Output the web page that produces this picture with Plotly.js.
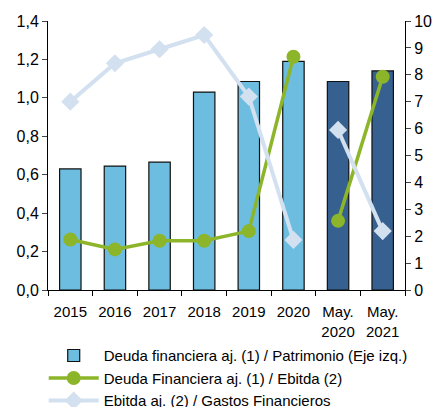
<!DOCTYPE html>
<html><head><meta charset="utf-8">
<script src="https://cdn.plot.ly/plotly-3.0.1.min.js"></script>
<style>html,body{margin:0;padding:0;background:#fff}#chart{width:438px;height:407px}</style>
</head><body><div id="chart"></div>
<script>
const categories = ["2015","2016","2017","2018","2019","2020","May.<br>2020","May.<br>2021"];
const deudaPatrimonio = [0.63,0.645,0.665,1.03,1.085,1.19,1.085,1.14];
const deudaEbitda = [1.88,1.51,1.83,1.83,2.19,8.67,2.57,7.93];
const ebitdaGastos = [7.0,8.43,8.95,9.48,7.19,1.86,5.95,2.19];
const barColors = ["#6CBDDF","#6CBDDF","#6CBDDF","#6CBDDF","#6CBDDF","#6CBDDF","#35608F","#35608F"];
const splitAt = 6; // annual series vs. May (year-to-date) series drawn as separate segments

const greenLine = {color:"#8DB52A", width:3.5};
const greenMarker = {symbol:"circle", size:14, color:"#8DB52A"};
const blueLine = {color:"#D2E0F0", width:4};
const blueMarker = {symbol:"diamond", size:14, color:"#D2E0F0"};

const traces = [
  {type:"bar", x:categories, y:deudaPatrimonio, name:"Deuda financiera aj. (1) / Patrimonio (Eje izq.)",
   marker:{color:barColors, line:{color:"#111", width:1.2}}, yaxis:"y"},
  {type:"scatter", mode:"lines+markers", x:categories.slice(0,splitAt), y:deudaEbitda.slice(0,splitAt),
   name:"Deuda Financiera aj. (1) / Ebitda (2)", legendgroup:"g", line:greenLine, marker:greenMarker, yaxis:"y2"},
  {type:"scatter", mode:"lines+markers", x:categories.slice(splitAt), y:deudaEbitda.slice(splitAt),
   name:"Deuda Financiera aj. (1) / Ebitda (2)", legendgroup:"g", showlegend:false, line:greenLine, marker:greenMarker, yaxis:"y2"},
  {type:"scatter", mode:"lines+markers", x:categories.slice(0,splitAt), y:ebitdaGastos.slice(0,splitAt),
   name:"Ebitda aj. (2) / Gastos Financieros", legendgroup:"b", line:blueLine, marker:blueMarker, yaxis:"y2"},
  {type:"scatter", mode:"lines+markers", x:categories.slice(splitAt), y:ebitdaGastos.slice(splitAt),
   name:"Ebitda aj. (2) / Gastos Financieros", legendgroup:"b", showlegend:false, line:blueLine, marker:blueMarker, yaxis:"y2"}
];
const layout = {
  width:438, height:407, margin:{l:48, r:33, t:21, b:117, autoexpand:false},
  paper_bgcolor:"#fff", plot_bgcolor:"#fff",
  font:{family:"Liberation Sans, Arial, sans-serif", size:16, color:"#000"},
  bargap:0.52, showlegend:true, separators:",.",
  xaxis:{type:"category", showline:true, linecolor:"#000", linewidth:1, ticks:"outside", ticklen:5, tickson:"boundaries",
         tickcolor:"#000", showgrid:false, tickfont:{size:15}, tickangle:0, ticklabelstandoff:8, range:[-0.5,7.5]},
  yaxis:{range:[0,1.4], dtick:0.2, tickformat:".1f", showline:true, linecolor:"#000", ticks:"outside", ticklen:5,
         showgrid:false, zeroline:false, tickfont:{size:16}},
  yaxis2:{range:[0,10], dtick:1, overlaying:"y", side:"right", showline:true, linecolor:"#000", ticks:"outside", ticklen:5,
          showgrid:false, zeroline:false, tickfont:{size:16}},
  legend:{orientation:"v", x:-0.012, xanchor:"left", y:-0.183, yanchor:"top", font:{size:15}, tracegroupgap:0,
          itemwidth:50, bgcolor:"rgba(0,0,0,0)"}
};
Plotly.newPlot("chart", traces, layout, {displayModeBar:false, staticPlot:true});
</script></body></html>
